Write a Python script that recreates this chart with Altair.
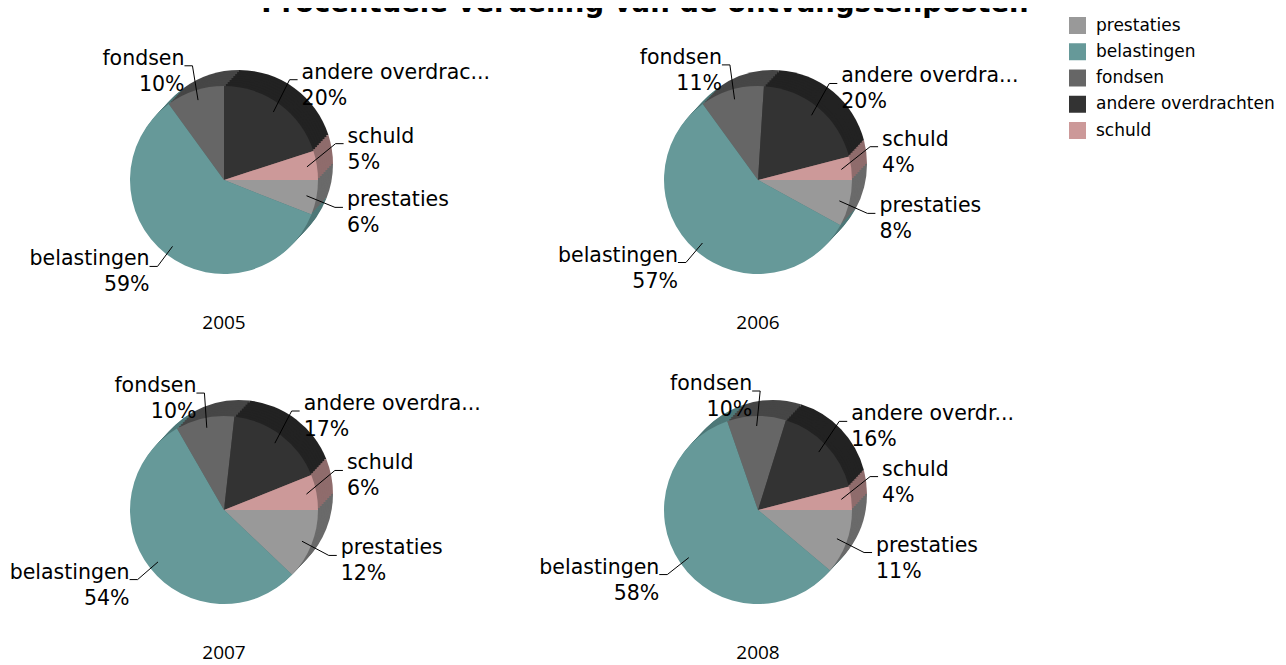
import altair as alt
import pandas as pd

# ---------------- data ----------------
years = ['2005', '2006', '2007', '2008']
categories = ['prestaties', 'belastingen', 'fondsen', 'andere overdrachten', 'schuld']
shares_2005 = [6, 59, 10, 20, 5]
shares_2006 = [8, 57, 11, 20, 4]
shares_2007 = [12, 54, 10, 17, 6]
shares_2008 = [11, 58, 10, 16, 4]
andere_shown = ['andere overdrac...', 'andere overdra...', 'andere overdra...', 'andere overdr...']
title_text = 'Procentuele verdeling  van de ontvangstenposten'

face_colors = ['#999999', '#669999', '#666666', '#333333', '#cc9999']
rim_colors = ['#6a6a6a', '#4e7878', '#464646', '#222222', '#8f6c6c']

shares = [shares_2005, shares_2006, shares_2007, shares_2008]
rows = []
for yi, (year, vals) in enumerate(zip(years, shares)):
    for ci, (cat, v) in enumerate(zip(categories, vals)):
        shown = andere_shown[yi] if cat == 'andere overdrachten' else cat
        rows.append({'year': year, 'yi': yi, 'cat': cat, 'ci': ci, 'value': v, 'shown': shown})
df = pd.DataFrame(rows)
ydf = pd.DataFrame({'year': years, 'yi': list(range(len(years)))})
tdf = pd.DataFrame({'t': [title_text]})

# ---------------- layout ----------------
W, H = 1270, 657
CX0, CY0, DXP, DYP = 216, 172, 534, 330
R = 94
RIM = (15, -16)
RIM_STEPS = 8
FONT = 'DejaVu Sans'
LINE_H = 26

panel_x = f'{CX0} + {DXP} * (datum.yi % 2)'
panel_y = f'{CY0} + {DYP} * floor(datum.yi / 2)'

base = (
    alt.Chart(df)
    .transform_joinaggregate(total='sum(value)', groupby=['year'])
    .transform_window(cum='sum(value)', groupby=['year'],
                      sort=[alt.SortField('ci', order='ascending')], frame=[None, 0])
    .transform_calculate(
        t0='PI / 2 + 2 * PI * (datum.cum - datum.value) / datum.total',
        t1='PI / 2 + 2 * PI * datum.cum / datum.total',
    )
    .transform_calculate(
        tm='(datum.t0 + datum.t1) / 2',
        cx=panel_x,
        cy=panel_y,
    )
)

rims = []
for k in range(RIM_STEPS, 0, -1):
    f = k / RIM_STEPS
    rims.append(
        base.transform_calculate(
            rx=f'datum.cx + {RIM[0] * f}', ry=f'datum.cy + {RIM[1] * f}'
        ).mark_arc(radius=R).encode(
            x=alt.X('rx:Q', scale=None),
            y=alt.Y('ry:Q', scale=None),
            theta=alt.Theta('t0:Q', scale=None, stack=None),
            theta2=alt.Theta2('t1'),
            color=alt.Color('cat:N', scale=alt.Scale(domain=categories, range=rim_colors), legend=None),
        )
    )

face = base.mark_arc(radius=R).encode(
    x=alt.X('cx:Q', scale=None),
    y=alt.Y('cy:Q', scale=None),
    theta=alt.Theta('t0:Q', scale=None, stack=None),
    theta2=alt.Theta2('t1'),
    color=alt.Color(
        'cat:N',
        scale=alt.Scale(domain=categories, range=face_colors),
        legend=alt.Legend(
            title=None, orient='none', legendX=1061, legendY=9,
            symbolType='square', symbolSize=289, symbolStrokeWidth=0,
            labelFontSize=17, labelFont=FONT, labelColor='black', labelLimit=400,
            rowPadding=8.25, labelOffset=10, padding=0,
        ),
    ),
)

lab = base.transform_calculate(
    s='sin(datum.tm)', c='cos(datum.tm)'
).transform_calculate(
    sg='datum.c >= 0 ? 1 : -1',
).transform_calculate(
    lx='datum.cx + 115 * datum.s + (datum.s >= 0 ? 10 : -4)',
    ly='datum.cy - 113 * datum.c - 15 * datum.sg * (1 - abs(datum.c))',
    txt='datum.shown + "\\n" + datum.value + "%"',
    ax='datum.cx + 84 * datum.s',
    ay='datum.cy - 84 * datum.c',
).transform_calculate(
    ty=f'datum.ly - {LINE_H / 2}',
    bx='datum.lx - (datum.s >= 0 ? 12 : -8)',
    by='datum.ly - 6',
    ex='datum.lx - (datum.s >= 0 ? 4 : 0)',
)

text_kw = dict(baseline='middle', lineBreak='\n', fontSize=20.5, font=FONT, lineHeight=LINE_H, color='black')
lab_right = lab.transform_filter('datum.s >= 0').mark_text(align='left', **text_kw).encode(
    x=alt.X('lx:Q', scale=None), y=alt.Y('ty:Q', scale=None), text='txt:N')
lab_left = lab.transform_filter('datum.s < 0').mark_text(align='right', **text_kw).encode(
    x=alt.X('lx:Q', scale=None), y=alt.Y('ty:Q', scale=None), text='txt:N')

leader1 = lab.mark_rule(color='black', strokeWidth=1).encode(
    x=alt.X('ax:Q', scale=None), y=alt.Y('ay:Q', scale=None), x2=alt.X2('bx'), y2=alt.Y2('by'))
leader2 = lab.mark_rule(color='black', strokeWidth=1).encode(
    x=alt.X('bx:Q', scale=None), y=alt.Y('by:Q', scale=None), x2=alt.X2('ex'), y2=alt.Y2('by'))

year_labels = alt.Chart(ydf).transform_calculate(
    cx=panel_x, cy=panel_y + ' + 143'
).mark_text(font='Open Sans', fontSize=19, baseline='middle', align='center', color='black').encode(
    x=alt.X('cx:Q', scale=None), y=alt.Y('cy:Q', scale=None), text='year:N')

title = alt.Chart(tdf).mark_text(
    font=FONT, fontSize=27.5, fontWeight='bold', baseline='alphabetic', align='center', color='black'
).encode(x=alt.value(637), y=alt.value(4), text='t:N')

chart = (
    alt.layer(*rims, face, leader1, leader2, lab_right, lab_left, year_labels, title)
    .resolve_scale(color='independent')
    .properties(width=W, height=H, autosize=alt.AutoSizeParams(type='none'), padding=0)
    .configure_view(stroke=None)
)

chart.save('out.html', embed_options={'renderer': 'svg', 'actions': False})
